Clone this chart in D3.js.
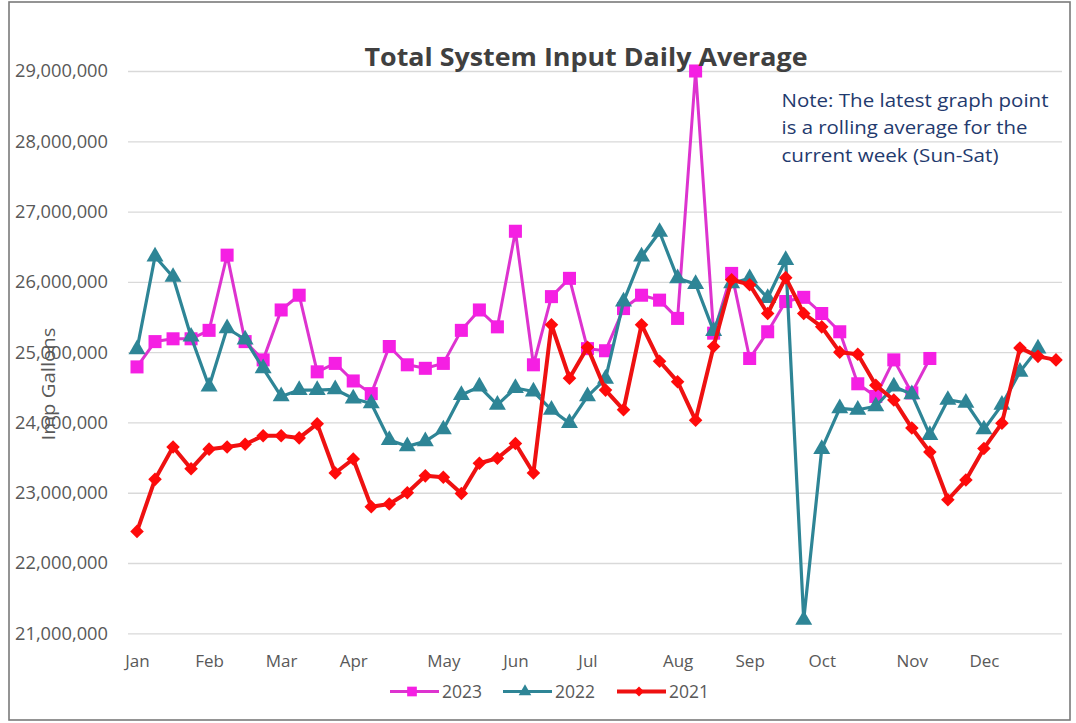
<!DOCTYPE html>
<html>
<head>
<meta charset="utf-8">
<script src="https://cdn.jsdelivr.net/npm/d3@7/dist/d3.min.js"></script>
<style>
  html, body { margin: 0; padding: 0; background: #fff; }
  svg { display: block; }
  text { font-family: "Open Sans", "Noto Sans", sans-serif; }
</style>
</head>
<body>
<script>
// ---- DATA (values in millions of Imperial gallons per day) ----
const weekLabels = [
  "Jan","","","","Feb","","","","Mar","","","","Apr","","","","","May","","","",
  "Jun","","","","Jul","","","","","Aug","","","","Sep","","","","Oct","","","","",
  "Nov","","","","Dec","","","",""
];
const yTicks = [21, 22, 23, 24, 25, 26, 27, 28, 29];

const s2023 = [24.79, 25.15, 25.19, 25.19, 25.31, 26.38, 25.15, 24.89, 25.60, 25.81,
  24.72, 24.84, 24.59, 24.41, 25.08, 24.82, 24.77, 24.84, 25.31, 25.60,
  25.36, 26.72, 24.82, 25.79, 26.05, 25.05, 25.02, 25.62, 25.81, 25.74,
  25.48, 29.00, 25.27, 26.12, 24.91, 25.29, 25.72, 25.78, 25.55, 25.29,
  24.55, 24.37, 24.89, 24.42, 24.91];

const s2022 = [25.04, 26.36, 26.07, 25.22, 24.51, 25.34, 25.18, 24.77, 24.37, 24.46,
  24.46, 24.47, 24.34, 24.27, 23.75, 23.66, 23.73, 23.90, 24.39, 24.51,
  24.25, 24.49, 24.44, 24.18, 23.99, 24.37, 24.62, 25.72, 26.36, 26.71,
  26.05, 25.97, 25.30, 25.98, 26.05, 25.77, 26.31, 21.19, 23.62, 24.20,
  24.18, 24.23, 24.51, 24.40, 23.82, 24.32, 24.28, 23.90, 24.25, 24.72,
  25.05];

const s2021 = [22.45, 23.19, 23.65, 23.34, 23.62, 23.65, 23.69, 23.81, 23.81, 23.78,
  23.98, 23.28, 23.48, 22.80, 22.84, 23.00, 23.24, 23.22, 22.99, 23.42,
  23.49, 23.70, 23.28, 25.39, 24.63, 25.07, 24.46, 24.18, 25.39, 24.87,
  24.58, 24.03, 25.08, 26.03, 25.96, 25.55, 26.06, 25.55, 25.36, 25.00,
  24.97, 24.53, 24.32, 23.92, 23.58, 22.90, 23.18, 23.63, 23.99, 25.06,
  24.94, 24.89];

const seriesNames = ["2023", "2022", "2021"];
const noteLines = [
  "Note: The latest graph point",
  "is a rolling average for the",
  "current week (Sun-Sat)"
];

// ---- STYLE / LAYOUT ----
const W = 1076, H = 723;
const plot = { left: 128, right: 1065, top: 71, bottom: 633.3 };
const styles = [
  { name: seriesNames[0], data: s2023, line: "#DD33CF", fill: "#F51FE3", symbol: d3.symbolSquare, size: 170, rot: 0, lw: 3 },
  { name: seriesNames[1], data: s2022, line: "#2E8596", fill: "#2E8596", symbol: d3.symbolTriangle, size: 125, rot: 0, lw: 3.2 },
  { name: seriesNames[2], data: s2021, line: "#EE1111", fill: "#FF0A0A", symbol: d3.symbolSquare, size: 92, rot: 45, lw: 4 }
];

const svg = d3.select("body").append("svg").attr("width", W).attr("height", H);

svg.append("rect").attr("x", 0).attr("y", 0).attr("width", W).attr("height", H).attr("fill", "#fff");
// chart frame
svg.append("rect").attr("x", 9).attr("y", 2).attr("width", 1061).attr("height", 718)
  .attr("fill", "none").attr("stroke", "#7a7a7a").attr("stroke-width", 1.6);

const x = d3.scalePoint().domain(d3.range(weekLabels.length)).range([plot.left, plot.right]).padding(0.5);
const y = d3.scaleLinear().domain([21, 29]).range([plot.bottom, plot.top]);

// gridlines
const grid = svg.append("g").attr("transform", `translate(${plot.left},0)`)
  .call(d3.axisLeft(y).tickValues(yTicks).tickSize(-(plot.right - plot.left - 3)).tickFormat(""));
grid.select(".domain").remove();
grid.selectAll("line").attr("stroke", "#d9d9d9").attr("stroke-width", 1.3);

// y axis labels
const yAxis = svg.append("g").attr("transform", `translate(${plot.left},0)`)
  .call(d3.axisLeft(y).tickValues(yTicks).tickSize(0).tickPadding(20)
    .tickFormat(d => d3.format(",")(Math.round(d * 1e6))));
yAxis.select(".domain").remove();
yAxis.selectAll("text").attr("fill", "#595959").style("font-size", "17.5px")
  .attr("dy", "0.34em")
  .attr("textLength", 93).attr("lengthAdjust", "spacingAndGlyphs");

// x axis labels
const xAxis = svg.append("g").attr("transform", `translate(0,${plot.bottom})`)
  .call(d3.axisBottom(x).tickSize(0).tickPadding(22).tickFormat(i => weekLabels[i]));
xAxis.select(".domain").remove();
xAxis.selectAll("text").attr("fill", "#595959").style("font-size", "17px");

// y axis title
svg.append("text")
  .attr("transform", "translate(55,384) rotate(-90)")
  .attr("text-anchor", "middle")
  .attr("fill", "#595959").style("font-size", "17.5px")
  .attr("textLength", 113).attr("lengthAdjust", "spacingAndGlyphs")
  .text("Imp Gallons");

// series
const lineGen = d3.line().x((d, i) => x(i)).y(d => y(d));
styles.forEach(s => {
  const g = svg.append("g");
  g.append("path").datum(s.data)
    .attr("d", lineGen).attr("fill", "none")
    .attr("stroke", s.line).attr("stroke-width", s.lw).attr("stroke-linejoin", "round");
  g.selectAll("path.m").data(s.data).join("path").attr("class", "m")
    .attr("d", d3.symbol().type(s.symbol).size(s.size))
    .attr("transform", (d, i) => `translate(${x(i)},${y(d)}) rotate(${s.rot})`)
    .attr("fill", s.fill);
});

// title
svg.append("text").attr("x", 586).attr("y", 66).attr("text-anchor", "middle")
  .attr("fill", "#404040").style("font-size", "25px").style("font-weight", "bold")
  .attr("textLength", 443).attr("lengthAdjust", "spacingAndGlyphs")
  .text("Total System Input Daily Average");

// note
const noteWidths = [267, 246, 217];
svg.append("g").selectAll("text").data(noteLines).join("text")
  .attr("x", 781.5).attr("y", (d, i) => 106.5 + i * 27.5)
  .attr("fill", "#1F3A6E").style("font-size", "18px")
  .attr("textLength", (d, i) => noteWidths[i]).attr("lengthAdjust", "spacingAndGlyphs")
  .text(d => d);

// legend
const legX = [390, 503, 617];
const leg = svg.append("g");
styles.forEach((s, k) => {
  const lg = leg.append("g").attr("transform", `translate(${legX[k]},691.5)`);
  lg.append("line").attr("x1", 0).attr("x2", 49).attr("stroke", s.line).attr("stroke-width", s.lw);
  lg.append("path").attr("d", d3.symbol().type(s.symbol).size(s.size * 0.55))
    .attr("transform", `translate(22,0) rotate(${s.rot})`).attr("fill", s.fill);
  lg.append("text").attr("x", 52).attr("dy", "0.35em").attr("fill", "#595959")
    .style("font-size", "17.5px").text(s.name);
});
</script>
</body>
</html>
